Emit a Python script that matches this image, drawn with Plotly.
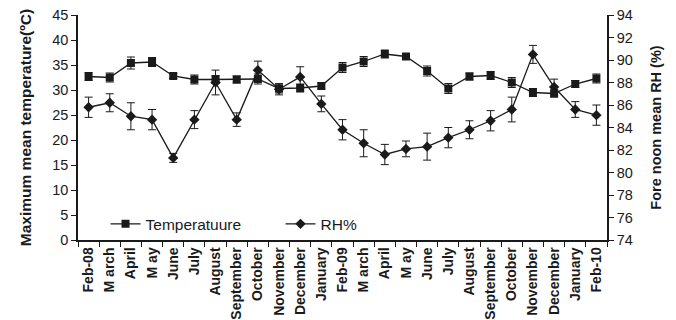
import plotly.graph_objects as go

months = ["Feb-08", "M arch", "April", "M ay", "June", "July", "August", "September",
          "October", "November", "December", "January", "Feb-09", "M arch", "April",
          "M ay", "June", "July", "August", "September", "October", "November",
          "December", "January", "Feb-10"]

temperature = [32.7, 32.5, 35.4, 35.6, 32.8, 32.1, 32.1, 32.1, 32.2, 30.3, 30.4, 30.8,
               34.5, 35.7, 37.2, 36.7, 33.8, 30.3, 32.7, 32.9, 31.5, 29.5, 29.3, 31.2, 32.3]
temperature_err = [0.8, 0.9, 1.2, 0.9, 0.5, 0.9, 0.8, 0.7, 1.0, 0.9, 0.8, 0.6,
                   1.0, 1.0, 0.8, 0.6, 1.0, 1.0, 0.7, 0.8, 1.0, 0.8, 0.7, 0.7, 0.9]

rh = [85.8, 86.2, 85.0, 84.7, 81.3, 84.7, 88.0, 84.7, 89.1, 87.4, 88.5, 86.1,
      83.8, 82.6, 81.6, 82.1, 82.3, 83.1, 83.8, 84.6, 85.6, 90.5, 87.6, 85.6, 85.1]
rh_err = [0.9, 0.8, 1.2, 0.9, 0.4, 0.8, 1.1, 0.6, 0.8, 0.5, 0.9, 0.7,
          0.9, 1.2, 0.9, 0.7, 1.2, 0.9, 0.8, 0.9, 1.1, 0.8, 0.7, 0.7, 0.9]

temp_ticks = list(range(0, 46, 5))
rh_ticks = list(range(74, 95, 2))

x = list(range(len(months)))
black = "#1a1a1a"
fam = "Liberation Sans, Arial, sans-serif"

fig = go.Figure()
fig.add_trace(go.Scatter(
    x=x, y=temperature, name="Temperatuure", mode="lines+markers",
    line=dict(color=black, width=1.3),
    marker=dict(symbol="square", size=8, color=black),
    error_y=dict(type="data", array=temperature_err, color=black, thickness=1, width=4),
    yaxis="y"))
fig.add_trace(go.Scatter(
    x=x, y=rh, name="RH%", mode="lines+markers",
    line=dict(color=black, width=1.3),
    marker=dict(symbol="diamond", size=8, color=black),
    error_y=dict(type="data", array=rh_err, color=black, thickness=1, width=4),
    yaxis="y2"))

tickfont = dict(family=fam, size=14.5, color=black)
xfont = dict(family=fam, size=14, color=black)
hidden = dict(showticklabels=False, showgrid=False, zeroline=False, showline=False,
              automargin=False, ticks="inside", ticklen=4, tickcolor=black, tickwidth=1.2)

fig.update_layout(
    width=676, height=320,
    margin=dict(l=70, r=77, t=7, b=88, autoexpand=False),
    paper_bgcolor="white", plot_bgcolor="white",
    showlegend=True,
    legend=dict(orientation="h", x=0.052, y=0.07, xanchor="left", yanchor="middle",
                bgcolor="rgba(0,0,0,0)", entrywidth=130,
                font=dict(family=fam, size=15.5, color=black)),
    xaxis=dict(range=[-0.5, len(months) - 0.5], tickvals=x, ticktext=[f"<b>{m}</b>" for m in months],
               tickangle=-90, tickfont=xfont, ticks="", showgrid=False, zeroline=False,
               showline=True, linecolor=black, linewidth=1.5, automargin=False,
               ticklabeloverflow="allow",
               minor=dict(tick0=-0.5, dtick=1, ticks="outside", ticklen=5, tickcolor=black, tickwidth=1.2),
               anchor="y"),
    xaxis2=dict(range=[-0.5, len(months) - 0.5], overlaying="x", anchor="y", side="bottom",
                tickmode="linear", tick0=-0.5, dtick=1, **hidden),
    yaxis=dict(range=[0, 45], tickvals=temp_ticks, tickfont=tickfont, ticks="outside", ticklen=5,
               tickcolor=black, tickwidth=1.2, showgrid=False, zeroline=False,
               showline=True, linecolor=black, linewidth=1.5, automargin=False,
               ticklabeloverflow="allow",
               tickprefix="<b>", ticksuffix="</b>",
               title=dict(text="<b>Maximum mean temperature(ºC)</b>",
                          font=dict(family=fam, size=15.5, color=black), standoff=17)),
    yaxis2=dict(range=[74, 94], tickvals=rh_ticks, overlaying="y", side="right", tickfont=tickfont,
                ticks="outside", ticklen=5, tickcolor=black, tickwidth=1.2, showgrid=False,
                zeroline=False, showline=True, linecolor=black, linewidth=1.5, automargin=False,
                ticklabeloverflow="allow",
                tickprefix="<b>", ticksuffix="</b>",
                title=dict(text="<b>Fore noon mean RH (%)</b>",
                           font=dict(family=fam, size=14.5, color=black), standoff=19)),
    yaxis3=dict(range=[0, 45], tickvals=temp_ticks, overlaying="y", side="left", anchor="x", **hidden),
    yaxis4=dict(range=[74, 94], tickvals=rh_ticks, overlaying="y", side="right", anchor="x", **hidden),
)

fig.write_html("out.html")
